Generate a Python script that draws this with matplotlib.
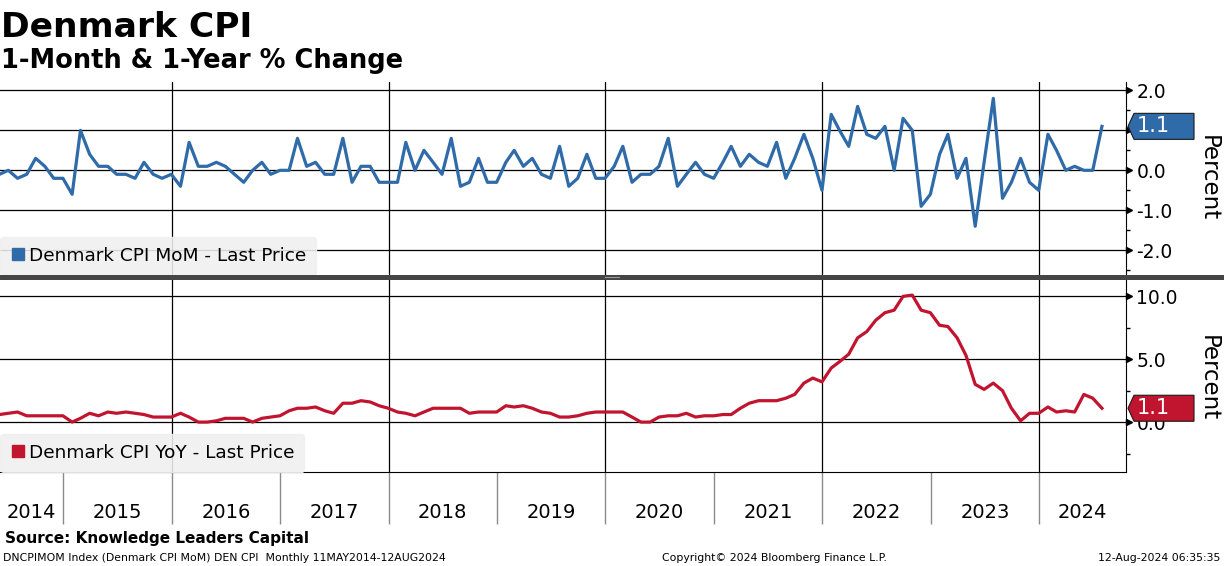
### Denmark CPI MoM / YoY, two panel chart

import numpy as np
import pandas as pd
import matplotlib
matplotlib.use("Agg")
import matplotlib.pyplot as plt
import matplotlib.dates as mdates
import matplotlib.transforms as mtransforms
from matplotlib.patches import Polygon, Rectangle
from matplotlib.lines import Line2D
from matplotlib.ticker import FixedLocator, FixedFormatter, MultipleLocator, NullFormatter

# monthly points, May 2014 .. Jul 2024 (month end)
dates = pd.date_range("2014-05-31", periods=123, freq="ME")

mom = [-0.1, 0.0, -0.2, -0.1, 0.3, 0.1, -0.2, -0.2,
       -0.6, 1.0, 0.4, 0.1, 0.1, -0.1, -0.1, -0.2, 0.2, -0.1, -0.2, -0.1,
       -0.4, 0.7, 0.1, 0.1, 0.2, 0.1, -0.1, -0.3, 0.0, 0.2, -0.1, 0.0,
       0.0, 0.8, 0.1, 0.2, -0.1, -0.1, 0.8, -0.3, 0.1, 0.1, -0.3, -0.3,
       -0.3, 0.7, 0.0, 0.5, 0.2, -0.1, 0.8, -0.4, -0.3, 0.3, -0.3, -0.3,
       0.2, 0.5, 0.1, 0.3, -0.1, -0.2, 0.6, -0.4, -0.2, 0.4, -0.2, -0.2,
       0.1, 0.6, -0.3, -0.1, -0.1, 0.1, 0.8, -0.4, -0.1, 0.2, -0.1, -0.2,
       0.2, 0.6, 0.1, 0.4, 0.2, 0.1, 0.7, -0.2, 0.3, 0.9, 0.3, -0.5,
       1.4, 1.0, 0.6, 1.6, 0.9, 0.8, 1.1, 0.0, 1.3, 1.0, -0.9, -0.6,
       0.4, 0.9, -0.2, 0.3, -1.4, 0.2, 1.8, -0.7, -0.3, 0.3, -0.3, -0.5,
       0.9, 0.5, 0.0, 0.1, 0.0, 0.0, 1.1]

yoy = [0.6, 0.7, 0.8, 0.5, 0.5, 0.5, 0.5, 0.5,
       0.0, 0.3, 0.7, 0.5, 0.8, 0.7, 0.8, 0.7, 0.6, 0.4, 0.4, 0.4,
       0.7, 0.4, 0.0, 0.0, 0.1, 0.3, 0.3, 0.3, 0.0, 0.3, 0.4, 0.5,
       0.9, 1.1, 1.1, 1.2, 0.9, 0.7, 1.5, 1.5, 1.7, 1.6, 1.3, 1.1,
       0.8, 0.7, 0.5, 0.8, 1.1, 1.1, 1.1, 1.1, 0.7, 0.8, 0.8, 0.8,
       1.3, 1.2, 1.3, 1.1, 0.8, 0.7, 0.4, 0.4, 0.5, 0.7, 0.8, 0.8,
       0.8, 0.8, 0.4, 0.0, 0.0, 0.4, 0.5, 0.5, 0.7, 0.4, 0.5, 0.5,
       0.6, 0.6, 1.1, 1.5, 1.7, 1.7, 1.7, 1.9, 2.2, 3.1, 3.5, 3.2,
       4.3, 4.8, 5.4, 6.7, 7.2, 8.1, 8.7, 8.9, 10.0, 10.1, 8.9, 8.7,
       7.7, 7.6, 6.7, 5.3, 3.0, 2.6, 3.1, 2.5, 1.1, 0.1, 0.7, 0.7,
       1.2, 0.8, 0.9, 0.8, 2.2, 1.9, 1.1]

years = list(range(2014, 2025))
grid_years = [2016, 2018, 2020, 2022, 2024]
mom_ticks = [-2.0, -1.0, 0.0, 1.0, 2.0]
yoy_ticks = [0.0, 5.0, 10.0]

mom_label = "Denmark CPI MoM - Last Price"
yoy_label = "Denmark CPI YoY - Last Price"

blue = "#2f6ba8"
red = "#c0142f"

W, H = 1224, 566
plt.rcParams["axes.unicode_minus"] = False


def fx(px):
    return px / W


def fy(py):
    return 1 - py / H


def value_tag(fig, ax, x, val, color):
    # pentagon tag to the right of the axis, centred on the last value
    yd = ax.transData.transform((mdates.date2num(x), val))[1]
    c = H - yd
    pts = [(1128, c), (1134, c - 13), (1194, c - 13), (1194, c + 13), (1134, c + 13)]
    poly = Polygon([(fx(a), fy(b)) for a, b in pts], closed=True, transform=fig.transFigure,
                   facecolor=color, edgecolor="#1a1a1a", lw=0.8, zorder=4)
    fig.add_artist(poly)
    fig.text(fx(1137), fy(c), "%.1f" % val, color="white", fontsize=15,
             va="center", ha="left", zorder=5)


def style_panel(ax, ticks, minor_step, lim):
    ax.set_ylim(*lim)
    ax.yaxis.tick_right()
    ax.set_yticks(ticks)
    ax.yaxis.set_major_formatter(matplotlib.ticker.FormatStrFormatter("%.1f"))
    ax.yaxis.set_minor_locator(MultipleLocator(minor_step))
    ax.tick_params(axis="y", which="major", length=0, pad=7.5, labelsize=13.5)
    ax.tick_params(axis="y", which="minor", length=3, width=1, color="black")
    ax.grid(axis="y", which="major", color="black", lw=0.9)
    for yr in grid_years:
        ax.axvline(pd.Timestamp(yr, 1, 1), color="black", lw=0.9, zorder=1)
    for s in ["left", "top"]:
        ax.spines[s].set_visible(False)
    ax.spines["right"].set_color("black")
    # arrow heads for the major ticks
    off = mtransforms.ScaledTranslation(3 / 100, 0, ax.figure.dpi_scale_trans)
    ax.plot([1.0] * len(ticks), ticks, marker=">", ls="none", color="black", markersize=5,
            transform=ax.get_yaxis_transform() + off, clip_on=False)


def add_legend(ax, label, color):
    h = Line2D([0], [0], marker="s", ls="none", color=color, markersize=9)
    leg = ax.legend(handles=[h], labels=[label], loc="lower left", bbox_to_anchor=(0, 0),
                    borderaxespad=0, fontsize=13.3, frameon=True, fancybox=True,
                    facecolor="#f0f0f0", edgecolor="#f0f0f0", framealpha=0.88,
                    handlelength=0.8, handletextpad=0.2, borderpad=0.55)
    leg.set_zorder(6)


def main():
    fig = plt.figure(figsize=(W / 100, H / 100), dpi=100)
    ax1 = fig.add_axes([0, fy(275), fx(1126), (275 - 82) / H])
    ax2 = fig.add_axes([0, fy(472), fx(1126), (472 - 280) / H])

    xmin, xmax = pd.Timestamp("2014-06-02"), pd.Timestamp("2024-10-20")

    ax1.plot(dates, mom, color=blue, lw=2.3, zorder=3)
    ax2.plot(dates, yoy, color=red, lw=2.3, zorder=3)

    for ax in (ax1, ax2):
        ax.set_xlim(xmin, xmax)

    style_panel(ax1, mom_ticks, 0.5, (-2.62, 2.21))
    style_panel(ax2, yoy_ticks, 2.5, (-3.97, 11.3))
    ax1.spines["bottom"].set_visible(False)
    ax2.spines["bottom"].set_color("black")

    ax1.tick_params(axis="x", which="both", bottom=False, labelbottom=False)

    # year separators and centred year labels
    ax2.xaxis.set_major_locator(mdates.YearLocator(1))
    ax2.xaxis.set_major_formatter(NullFormatter())
    ax2.tick_params(axis="x", which="major", length=37.5, width=1, color="#8a8a8a")
    mids = []
    for yr in years:
        a = max(pd.Timestamp(yr, 1, 1), xmin)
        b = min(pd.Timestamp(yr + 1, 1, 1), xmax)
        mids.append(mdates.date2num(a) + (mdates.date2num(b) - mdates.date2num(a)) / 2)
    ax2.xaxis.set_minor_locator(FixedLocator(mids))
    ax2.xaxis.set_minor_formatter(FixedFormatter([str(y) for y in years]))
    ax2.tick_params(axis="x", which="minor", length=0, pad=22, labelsize=14)

    add_legend(ax1, mom_label, blue)
    add_legend(ax2, yoy_label, red)

    fig.canvas.draw()
    value_tag(fig, ax1, dates[-1], mom[-1], blue)
    value_tag(fig, ax2, dates[-1], yoy[-1], red)

    # divider bar between the panels
    fig.add_artist(Rectangle((0, fy(280)), 1, 5 / H, transform=fig.transFigure,
                             facecolor="#454545", edgecolor="none", zorder=2))
    fig.add_artist(Line2D([fx(605), fx(619)], [fy(277), fy(277)], transform=fig.transFigure,
                          color="#9a9a9a", lw=0.8, zorder=3))

    fig.text(fx(1208), fy(178), "Percent", rotation=270, fontsize=16.5, ha="center", va="center")
    fig.text(fx(1208), fy(378), "Percent", rotation=270, fontsize=16.5, ha="center", va="center")

    fig.text(fx(1), fy(37), "Denmark CPI", fontsize=24.8, fontweight="bold", va="baseline")
    fig.text(fx(1), fy(68), "1-Month & 1-Year % Change", fontsize=18.5, fontweight="bold", va="baseline")

    fig.text(fx(5), fy(543), "Source: Knowledge Leaders Capital", fontsize=11, fontweight="bold",
             va="baseline")
    fig.text(fx(3), fy(561), "DNCPIMOM Index (Denmark CPI MoM) DEN CPI  Monthly 11MAY2014-12AUG2024",
             fontsize=7.8, va="baseline")
    fig.text(fx(662), fy(561), "Copyright\u00a9 2024 Bloomberg Finance L.P.", fontsize=7.8, va="baseline")
    fig.text(fx(1220), fy(561), "12-Aug-2024 06:35:35", fontsize=7.8, va="baseline", ha="right")

    fig.savefig("out.png", dpi=100)


if __name__ == "__main__":
    main()
